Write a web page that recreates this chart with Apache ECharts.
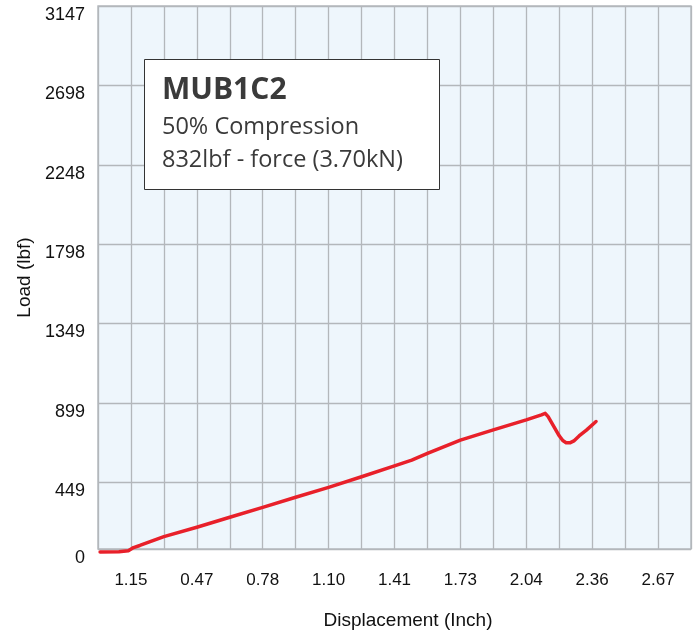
<!DOCTYPE html>
<html>
<head>
<meta charset="utf-8">
<script src="https://cdn.jsdelivr.net/npm/echarts@6/dist/echarts.min.js"></script>
<style>
  html, body { margin: 0; padding: 0; background: #fff; }
  #main { width: 697px; height: 635px; }
</style>
</head>
<body>
<div id="main"></div>
<script>
// displacement (inch) and load (lbf)
var dispInch = [0.01, 0.10, 0.145, 0.17, 0.20, 0.315, 0.4725, 0.63, 0.7875, 0.945, 1.1025, 1.26, 1.4175,
    1.50, 1.575, 1.7325, 1.89, 2.0475, 2.12, 2.138, 2.152, 2.205, 2.222, 2.238, 2.256, 2.275, 2.30, 2.335, 2.381];
var loadLbf = [55, 57, 62, 80, 92, 142, 195, 252, 308, 365, 421, 481, 543,
    575, 613, 689, 747, 803, 832, 840, 822, 713, 686, 674, 673, 684, 712, 745, 794];

// tick labels as printed on the chart
var xLabels = ['1.15', '0.47', '0.78', '1.10', '1.41', '1.73', '2.04', '2.36', '2.67'];
var yLabels = ['0', '449', '899', '1349', '1798', '2248', '2698', '3147'];

var xGridStep = 0.1575;   // one label every second grid line
var yMin = 72;            // bottom band of the plot is shorter than the others

var yTickValues = yLabels.map(function (s) { return Math.max(Number(s), yMin); });

var seriesData = dispInch.map(function (x, i) { return [x, loadLbf[i]]; });

var myChart = echarts.init(document.getElementById('main'));

var gridLine = { show: true, lineStyle: { color: '#b3b7bb', width: 1.3 } };

option = {
    animation: false,
    grid: {
        left: 98, right: 6, top: 6, bottom: 85,
        show: true,
        backgroundColor: '#eef6fc',
        borderColor: '#b8bcc0',
        borderWidth: 1.5
    },
    xAxis: {
        type: 'value',
        min: 0,
        max: 18 * xGridStep,
        interval: xGridStep,
        name: 'Displacement (Inch)',
        nameLocation: 'middle',
        nameGap: 62,
        nameTextStyle: { fontFamily: 'Liberation Sans', fontSize: 19, color: '#111', padding: [0, 0, 0, 27] },
        axisLine: { show: false },
        axisTick: { show: false },
        splitLine: gridLine,
        axisLabel: {
            margin: 23,
            fontFamily: 'Liberation Sans',
            fontSize: 17,
            color: '#111',
            formatter: function (v) {
                var k = Math.round(v / xGridStep);
                return k % 2 === 1 ? xLabels[(k - 1) / 2] : '';
            }
        }
    },
    yAxis: {
        type: 'value',
        min: yMin,
        max: 3147,
        name: 'Load (lbf)',
        nameLocation: 'middle',
        nameRotate: 90,
        nameGap: 64,
        nameTextStyle: { fontFamily: 'Liberation Sans', fontSize: 19, color: '#111' },
        axisLine: { show: false },
        axisTick: { show: false, customValues: yTickValues },
        splitLine: gridLine,
        axisLabel: {
            customValues: yTickValues,
            margin: 13,
            verticalAlign: 'top',
            fontFamily: 'Liberation Sans',
            fontSize: 18,
            color: '#111',
            formatter: function (v) {
                var best = 0;
                yTickValues.forEach(function (t, i) {
                    if (Math.abs(t - v) < Math.abs(yTickValues[best] - v)) best = i;
                });
                return yLabels[best];
            }
        }
    },
    graphic: [
        {
            type: 'rect',
            shape: { x: 144.5, y: 59.5, width: 295, height: 130 },
            style: { fill: '#fff', stroke: '#333', lineWidth: 1 },
            z: 100
        },
        {
            type: 'text', x: 162, y: 90, z: 101,
            style: { text: 'MUB1C2', fill: '#3a3a3a', font: 'bold 30px "Open Sans"', verticalAlign: 'middle' }
        },
        {
            type: 'text', x: 162, y: 127, z: 101,
            style: { text: '50% Compression', fill: '#3a3a3a', font: '23.5px "Open Sans"', verticalAlign: 'middle' }
        },
        {
            type: 'text', x: 162, y: 160, z: 101,
            style: { text: '832lbf - force (3.70kN)', fill: '#3a3a3a', font: '23.5px "Open Sans"', verticalAlign: 'middle' }
        }
    ],
    series: [
        {
            type: 'line',
            data: seriesData,
            showSymbol: false,
            clip: false,
            smooth: false,
            lineStyle: { color: '#e8202a', width: 3.5, join: 'round', cap: 'round' }
        }
    ]
};
myChart.setOption(option);
</script>
</body>
</html>
